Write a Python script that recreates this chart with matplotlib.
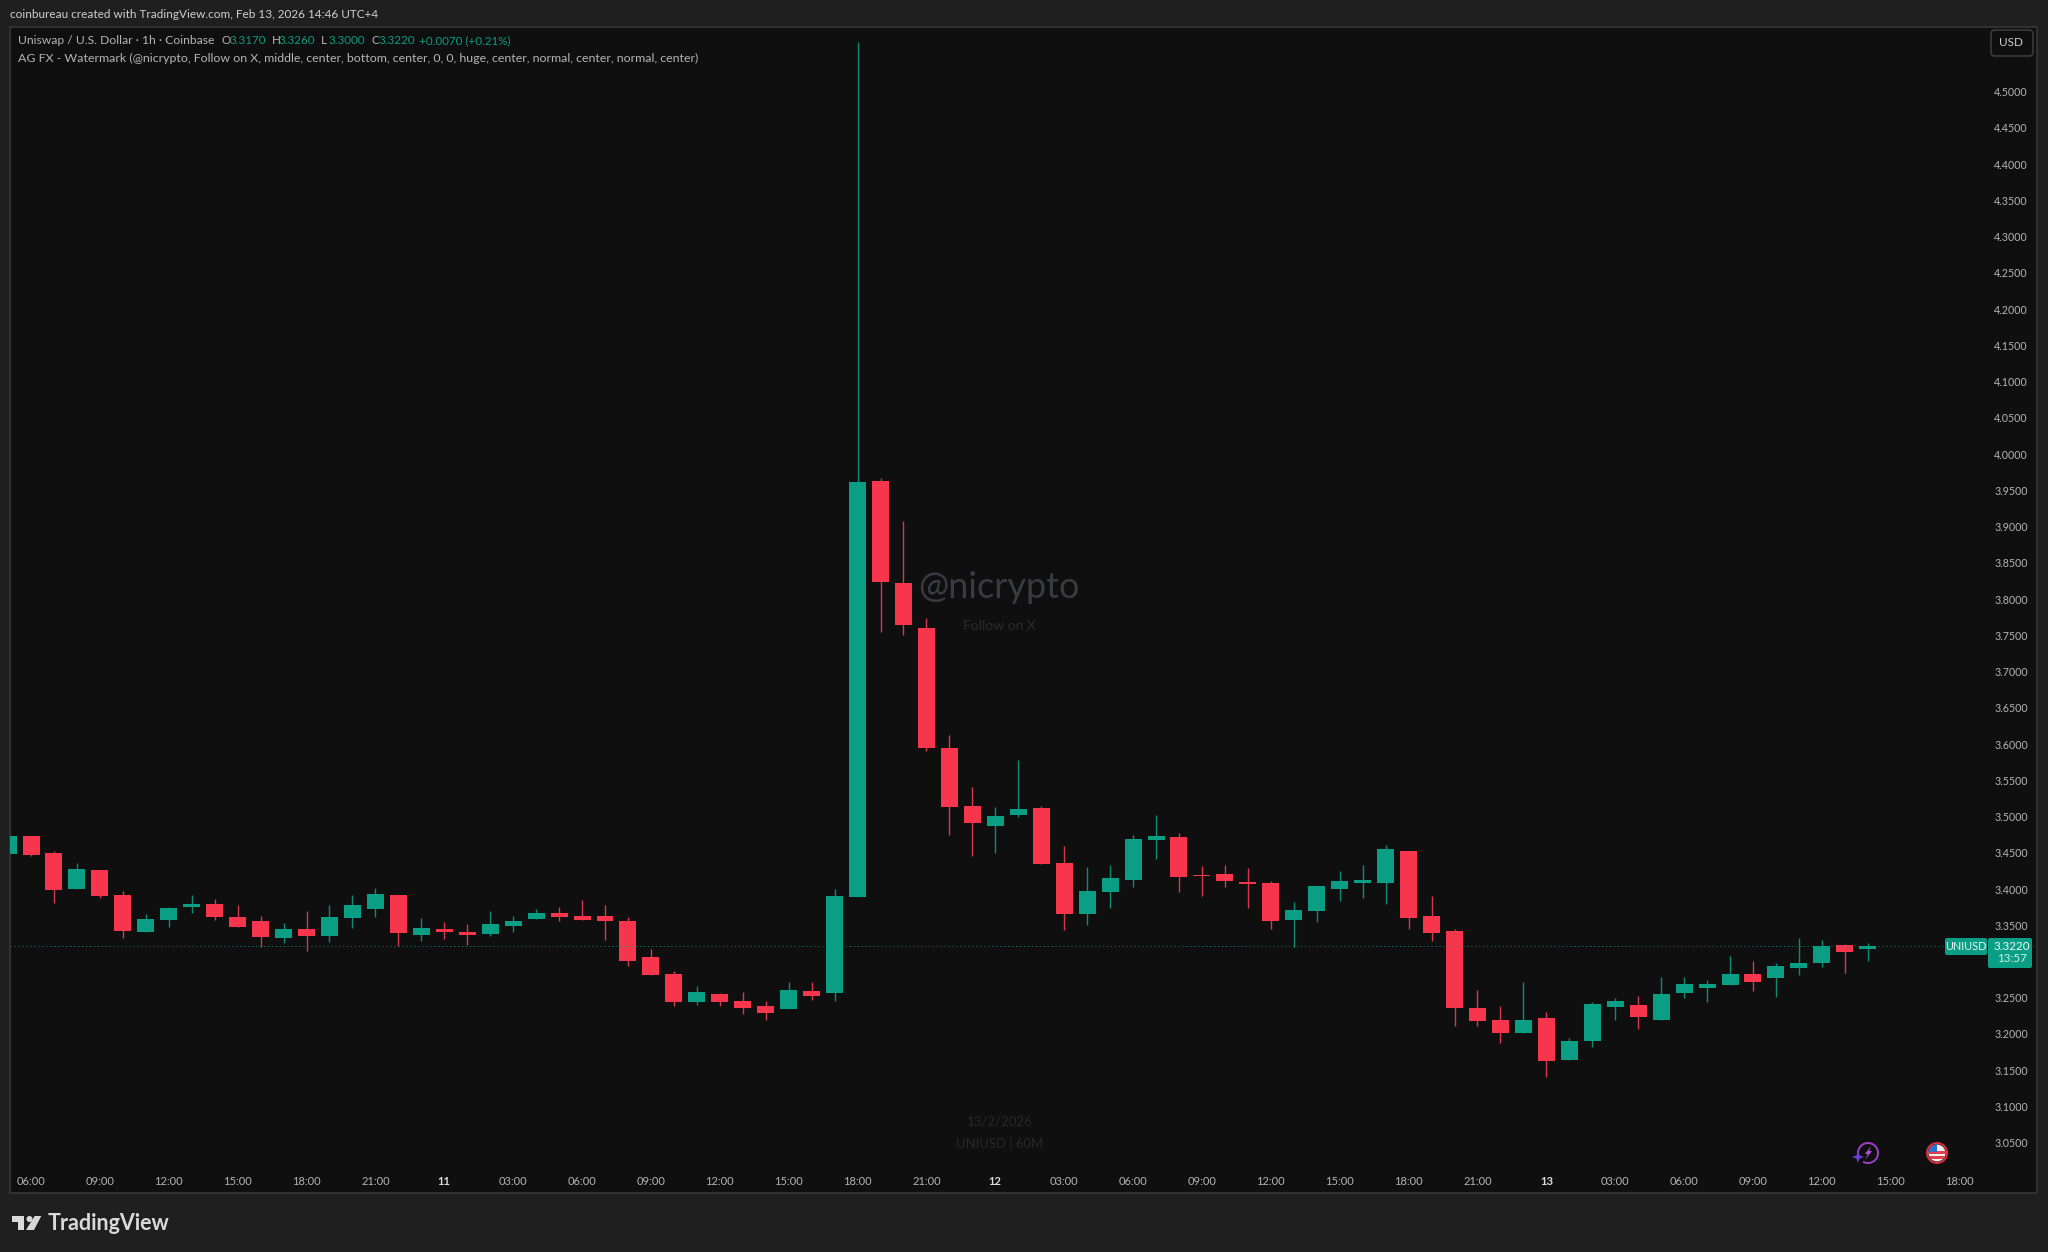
import numpy as np
import matplotlib
matplotlib.use('Agg')
from matplotlib import pyplot as plt
from matplotlib.patches import Circle, FancyBboxPatch, Polygon, Rectangle, Arc

plt.rcParams['font.family'] = ['Lato', 'DejaVu Sans']

# hourly candles, the first one is 05:00 on the 10th
opens = [3.4488, 3.4731, 3.4501, 3.4000, 3.4258, 3.3917, 3.3402, 3.3577, 3.3752, 3.3798, 3.3609, 3.3554, 3.3324, 3.3443,
         3.3351, 3.3604, 3.3729, 3.3917, 3.3365, 3.3443, 3.3407, 3.3374, 3.3494, 3.3581, 3.3673, 3.3632, 3.3632, 3.3554,
         3.3062, 3.2832, 3.2441, 3.2546, 3.2454, 3.2385, 3.2344, 3.2588, 3.2565, 3.3894, 3.9630, 3.8218, 3.7606, 3.5941,
         3.5141, 3.4869, 3.5017, 3.5113, 3.4363, 3.3660, 3.3959, 3.4124, 3.4676, 3.4718, 3.4193, 3.4202, 3.4097, 3.4078,
         3.3577, 3.3701, 3.4000, 3.4078, 3.4078, 3.4529, 3.3632, 3.3416, 3.2358, 3.2192, 3.2017, 3.2220, 3.1640, 3.1898,
         3.2372, 3.2399, 3.2192, 3.2560, 3.2629, 3.2680, 3.2832, 3.2776, 3.2914, 3.2983, 3.3223, 3.3170]
highs = [3.4731, 3.4731, 3.4524, 3.4354, 3.4267, 3.3972, 3.3650, 3.3752, 3.3917, 3.3862, 3.3779, 3.3632, 3.3535, 3.3701,
         3.3779, 3.3917, 3.4009, 3.3917, 3.3604, 3.3540, 3.3517, 3.3701, 3.3632, 3.3729, 3.3752, 3.3848, 3.3784, 3.3609,
         3.3172, 3.2868, 3.2657, 3.2560, 3.2574, 3.2450, 3.2721, 3.2721, 3.3995, 4.5686, 3.9667, 3.9074, 3.7744, 3.6125,
         3.5412, 3.5127, 3.5780, 3.5141, 3.4593, 3.4299, 3.4336, 3.4741, 3.5017, 3.4768, 3.4313, 3.4327, 3.4290, 3.4106,
         3.3821, 3.4041, 3.4244, 3.4336, 3.4607, 3.4529, 3.3903, 3.3453, 3.2606, 3.2385, 3.2721, 3.2307, 3.1948, 3.2436,
         3.2496, 3.2523, 3.2790, 3.2786, 3.2749, 3.3080, 3.3006, 3.2979, 3.3319, 3.3292, 3.3236, 3.3260]
lows = [3.4488, 3.4451, 3.3802, 3.4000, 3.3876, 3.3319, 3.3402, 3.3480, 3.3673, 3.3577, 3.3471, 3.3204, 3.3250, 3.3144,
        3.3269, 3.3457, 3.3618, 3.3213, 3.3278, 3.3305, 3.3227, 3.3356, 3.3402, 3.3581, 3.3563, 3.3577, 3.3292, 3.2937,
        3.2818, 3.2385, 3.2399, 3.2385, 3.2275, 3.2192, 3.2344, 3.2464, 3.2454, 3.3894, 3.7551, 3.7501, 3.5904, 3.4745,
        3.4460, 3.4497, 3.4994, 3.4350, 3.3430, 3.3508, 3.3742, 3.4023, 3.4419, 3.3963, 3.3903, 3.4023, 3.3738, 3.3443,
        3.3204, 3.3549, 3.3834, 3.3871, 3.3793, 3.3443, 3.3282, 3.2109, 3.2109, 3.1879, 3.2017, 3.1406, 3.1640, 3.1824,
        3.2188, 3.2068, 3.2192, 3.2496, 3.2436, 3.2680, 3.2597, 3.2514, 3.2818, 3.2924, 3.2845, 3.3000]
closes = [3.4731, 3.4474, 3.3986, 3.4271, 3.3903, 3.3420, 3.3591, 3.3738, 3.3798, 3.3618, 3.3471, 3.3338, 3.3443, 3.3347,
          3.3618, 3.3779, 3.3931, 3.3388, 3.3457, 3.3402, 3.3361, 3.3512, 3.3563, 3.3673, 3.3618, 3.3577, 3.3554, 3.3006,
          3.2818, 3.2441, 3.2574, 3.2441, 3.2358, 3.2289, 3.2611, 3.2523, 3.3903, 3.9617, 3.8237, 3.7639, 3.5946, 3.5127,
          3.4911, 3.5003, 3.5099, 3.4350, 3.3660, 3.3972, 3.4147, 3.4690, 3.4731, 3.4166, 3.4175, 3.4110, 3.4069, 3.3554,
          3.3710, 3.4041, 3.4110, 3.4120, 3.4557, 3.3604, 3.3388, 3.2362, 3.2178, 3.2017, 3.2192, 3.1626, 3.1907, 3.2413,
          3.2450, 3.2234, 3.2546, 3.2684, 3.2684, 3.2832, 3.2721, 3.2942, 3.2983, 3.3213, 3.3135, 3.3220]

last_price = 3.3220
price_ticks = [round(3.05 + 0.05 * i, 2) for i in range(30) if i != 5]
time_labels = ['06:00', '09:00', '12:00', '15:00', '18:00', '21:00', '11', '03:00', '06:00', '09:00', '12:00', '15:00',
               '18:00', '21:00', '12', '03:00', '06:00', '09:00', '12:00', '15:00', '18:00', '21:00', '13', '03:00',
               '06:00', '09:00', '12:00', '15:00', '18:00']
time_ticks = np.arange(len(time_labels)) * 3
hours = np.arange(len(opens)) - 1

UP = '#0a9e84'
DOWN = '#f7354c'
UP_WICK = '#0c8a72'
DOWN_WICK = '#d63a4c'
W, H = 2048, 1252

fig = plt.figure(figsize=(W / 100, H / 100), dpi=100, facecolor='#1f1f1f')

# pane, kept in pixel position so the price and time scales land where they should
left, right, top, bottom = 10, 2037, 27, 1193
ax = fig.add_axes([left / W, 1 - bottom / H, (right - left) / W, (bottom - top) / H], facecolor='#0f0f0f')
ax.set_xlim(-0.915, 87.37)
ax.set_ylim(2.9806, 4.5893)

o, h, l, c = map(np.array, (opens, highs, lows, closes))
up = c >= o
ax.vlines(hours, l, h, colors=[UP_WICK if u else DOWN_WICK for u in up], linewidth=1.0, zorder=2)
ax.bar(hours, np.abs(c - o), bottom=np.minimum(o, c), width=0.74, color=[UP if u else DOWN for u in up], linewidth=0, zorder=3)

# last price line
ax.axhline(last_price, color='#0e9a82', linewidth=0.75, dashes=(1.2, 2.6), alpha=0.65, zorder=4)

ax.set_xticks(time_ticks)
ax.set_xticklabels(time_labels)
ax.set_yticks(price_ticks)
ax.set_yticklabels(['%.4f' % p for p in price_ticks])
ax.yaxis.tick_right()
ax.tick_params(axis='y', length=0, pad=-6.5, labelsize=7.7, labelcolor='#b4b4b4')
ax.tick_params(axis='x', length=0, pad=-12.5, labelsize=8, labelcolor='#b4b4b4')
for lab in ax.get_yticklabels():
    lab.set_ha('right')
for lab in ax.get_xticklabels():
    if len(lab.get_text()) == 2:
        lab.set_fontweight('bold')
        lab.set_color('#dcdcdc')
for s in ax.spines.values():
    s.set_color('#303030')
    s.set_linewidth(1.5)

# everything that is not on the price scale goes on a pixel overlay
ov = fig.add_axes([0, 0, 1, 1], facecolor='none')
ov.set_xlim(0, W)
ov.set_ylim(H, 0)
ov.axis('off')


def label(x, y, s, size=8.4, color='#b4b4b4', ha='left', **kw):
    ov.text(x, y, s, fontsize=size, color=color, ha=ha, va='center', **kw)


label(10, 14.5, 'coinbureau created with TradingView.com, Feb 13, 2026 14:46 UTC+4', size=8.5, color='#cfcfcf')

label(18, 41, 'Uniswap / U.S. Dollar · 1h · Coinbase', size=8.7)
for x, s in [(222, 'O'), (272, 'H'), (321, 'L'), (371, 'C')]:
    label(x, 41, s)
for x, s in [(230, '3.3170'), (279, '3.3260'), (329, '3.3000'), (379, '3.3220'), (419, '+0.0070 (+0.21%)')]:
    label(x, 41, s, color='#0b9a81')
label(18, 58, 'AG FX - Watermark (@nicrypto, Follow on X, middle, center, bottom, center, 0, 0, huge, center, normal, center, normal, center)', size=8.92)

# watermark
label(999, 587, '@nicrypto', size=26, color='#393a42', ha='center')
label(999, 626, 'Follow on X', size=10, color='#2b2b2e', ha='center')
label(1000, 1121, '13/2/2026', size=9.5, color='#28282b', ha='center')
label(1000, 1144, 'UNIUSD | 60M', size=9.4, color='#28282b', ha='center')

# USD button
ov.add_patch(FancyBboxPatch((1991, 30), 42, 26, boxstyle='round,pad=0,rounding_size=4', facecolor='#0f0f0f',
                            edgecolor='#3a3a3a', linewidth=1.2, mutation_aspect=1))
label(2011, 43, 'USD', size=8.4, color='#d0d0d0', ha='center')

# price tags
ov.add_patch(FancyBboxPatch((1945, 938), 42, 17, boxstyle='round,pad=0,rounding_size=2', facecolor=UP, linewidth=0))
ov.add_patch(FancyBboxPatch((1988, 938), 44, 30, boxstyle='round,pad=0,rounding_size=2', facecolor=UP, linewidth=0))
label(1966, 946, 'UNIUSD', size=7.8, color='#e8f5f2', ha='center')
label(2012, 946, '3.3220', size=8.4, color='#f0f8f6', ha='center')
label(2012, 958.5, '13:57', size=8.4, color='#d8efe9', ha='center')

# bolt icon
ov.add_patch(Arc((1868, 1153), 20, 20, theta1=-200, theta2=120, color='#9c3fc4', linewidth=1.4))
ov.add_patch(Polygon([(1871, 1146), (1865, 1154), (1868, 1154), (1865, 1160), (1872, 1151), (1869, 1151)],
                     facecolor='#b04fd8', linewidth=0))
ov.add_patch(Polygon([(1858, 1151), (1859.5, 1155.5), (1864, 1157), (1859.5, 1158.5), (1858, 1163), (1856.5, 1158.5),
                      (1852, 1157), (1856.5, 1155.5)], facecolor='#6a3fe0', linewidth=0))

# flag icon
ring = Circle((1937, 1153), 8.5, facecolor='#f0f0f0', edgecolor='none')
ov.add_patch(ring)
for y in (1151, 1156):
    r = Rectangle((1928, y), 18, 2.5, facecolor='#e0404c', linewidth=0)
    ov.add_patch(r)
    r.set_clip_path(ring)
canton = Rectangle((1928, 1144), 9, 8, facecolor='#2f6fd0', linewidth=0)
ov.add_patch(canton)
canton.set_clip_path(ring)
ov.add_patch(Circle((1937, 1153), 10, facecolor='none', edgecolor='#e0303f', linewidth=1.4))

# TradingView logo
ov.add_patch(Polygon([(12, 1216), (24, 1216), (24, 1230), (17.5, 1230), (17.5, 1222), (12, 1222)], facecolor='#d9d9d9', linewidth=0))
ov.add_patch(Circle((29.5, 1219), 3, facecolor='#d9d9d9', linewidth=0))
ov.add_patch(Polygon([(34.7, 1216), (41.3, 1216), (34, 1230), (26, 1230)], facecolor='#d9d9d9', linewidth=0))
label(48, 1224, 'TradingView', size=15.5, color='#d9d9d9', fontweight='bold')

fig.savefig('out.png', dpi=100, facecolor=fig.get_facecolor())
